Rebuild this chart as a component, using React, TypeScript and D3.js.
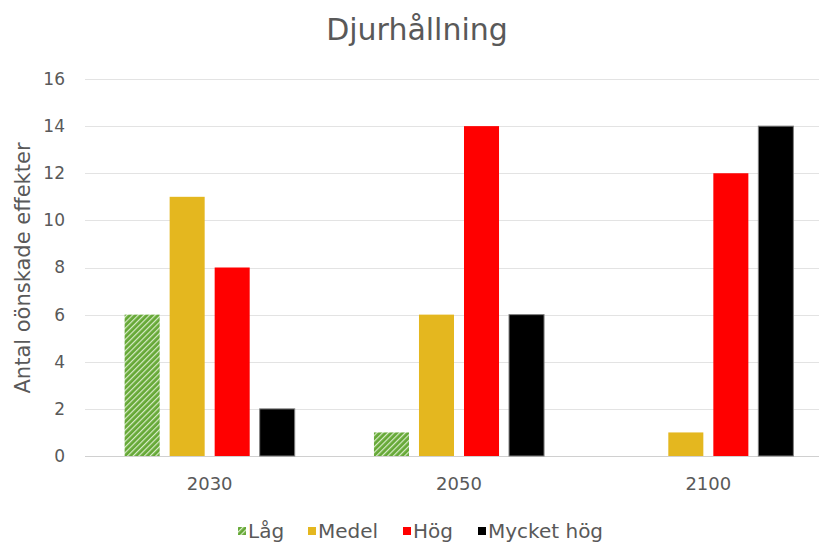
import React, { useEffect, useRef } from 'react';
import * as d3 from 'd3';

const years = ['2030', '2050', '2100'];
const seriesNames = ['Låg', 'Medel', 'Hög', 'Mycket hög'];
const lag = [6, 1, 0];
const medel = [11, 6, 1];
const hog = [8, 14, 12];
const mycketHog = [2, 6, 14];
const yTicks = [0, 2, 4, 6, 8, 10, 12, 14, 16];

const App: React.FC = () => {
  const ref = useRef<SVGSVGElement>(null);

  useEffect(() => {
    if (!ref.current) return;
    const svg = d3.select(ref.current);
    svg.selectAll('*').remove();

    const W = 819;
    const font = '"DejaVu Sans", Verdana, sans-serif';
    const textColor = '#595959';

    const values = [lag, medel, hog, mycketHog];
    const fills = ['url(#hatch)', '#E4B71F', '#FF0000', '#000000'];

    // pattern for the hatched series
    const defs = svg.append('defs');
    const pat = defs.append('pattern')
      .attr('id', 'hatch')
      .attr('patternUnits', 'userSpaceOnUse')
      .attr('width', 4)
      .attr('height', 4)
      .attr('patternTransform', 'rotate(45)');
    pat.append('rect').attr('width', 4).attr('height', 4).attr('fill', '#65A836');
    pat.append('rect').attr('x', 0).attr('width', 1.2).attr('height', 4).attr('fill', '#d8ecc8');

    const x = d3.scaleBand<string>()
      .domain(years)
      .range([85, 833]);

    const xs = d3.scaleBand<string>()
      .domain(seriesNames)
      .range([0, x.bandwidth()])
      .paddingInner(0.222)
      .paddingOuter(0.88);

    const y = d3.scaleLinear()
      .domain([0, 16])
      .range([456, 79]);

    // gridlines
    svg.append('g')
      .selectAll('line')
      .data(yTicks)
      .enter()
      .append('line')
        .attr('x1', 85)
        .attr('x2', W)
        .attr('y1', d => Math.round(y(d)) + 0.5)
        .attr('y2', d => Math.round(y(d)) + 0.5)
        .attr('stroke', d => (d === 0 ? '#d0d0d0' : '#e3e3e3'))
        .attr('stroke-width', 1);

    // y tick labels
    svg.append('g')
      .selectAll('text')
      .data(yTicks)
      .enter()
      .append('text')
        .attr('x', 65)
        .attr('y', d => y(d))
        .attr('dy', '0.35em')
        .attr('text-anchor', 'end')
        .attr('font-family', font)
        .attr('font-size', '17px')
        .attr('fill', textColor)
        .text(d => d);

    // bars
    seriesNames.forEach((name, si) => {
      svg.append('g')
        .selectAll('rect')
        .data(values[si].map((v, i) => ({ year: years[i], v })))
        .enter()
        .append('rect')
          .attr('x', d => (x(d.year) || 0) + (xs(name) || 0))
          .attr('y', d => y(d.v))
          .attr('width', xs.bandwidth())
          .attr('height', d => y(0) - y(d.v))
          .attr('fill', fills[si])
          .attr('stroke', si === 3 ? '#7f7f7f' : 'none')
          .attr('stroke-width', si === 3 ? 1 : 0);
    });

    // x labels
    svg.append('g')
      .selectAll('text')
      .data(years)
      .enter()
      .append('text')
        .attr('x', d => (x(d) || 0) + x.bandwidth() / 2)
        .attr('y', 490)
        .attr('text-anchor', 'middle')
        .attr('font-family', font)
        .attr('font-size', '18px')
        .attr('fill', textColor)
        .text(d => d);

    // title
    svg.append('text')
      .attr('x', 417)
      .attr('y', 40)
      .attr('text-anchor', 'middle')
      .attr('font-family', font)
      .attr('font-size', '30px')
      .attr('fill', textColor)
      .text('Djurhållning');

    // y axis title
    svg.append('text')
      .attr('transform', 'rotate(-90)')
      .attr('x', -268)
      .attr('y', 30)
      .attr('text-anchor', 'middle')
      .attr('font-family', font)
      .attr('font-size', '21px')
      .attr('fill', textColor)
      .text('Antal oönskade effekter');

    // legend
    const legendX = [238, 308, 403, 478];
    const legend = svg.append('g');
    seriesNames.forEach((name, i) => {
      legend.append('rect')
        .attr('x', legendX[i])
        .attr('y', 527)
        .attr('width', 8)
        .attr('height', 8)
        .attr('fill', fills[i]);
      legend.append('text')
        .attr('x', legendX[i] + 10)
        .attr('y', 531)
        .attr('dy', '0.35em')
        .attr('font-family', font)
        .attr('font-size', '20px')
        .attr('fill', textColor)
        .text(name);
    });
  }, []);

  return (
    <svg ref={ref} width={819} height={542}
      style={{ position: 'absolute', left: 0, top: 0, background: '#fff' }} />
  );
};

export default App;
